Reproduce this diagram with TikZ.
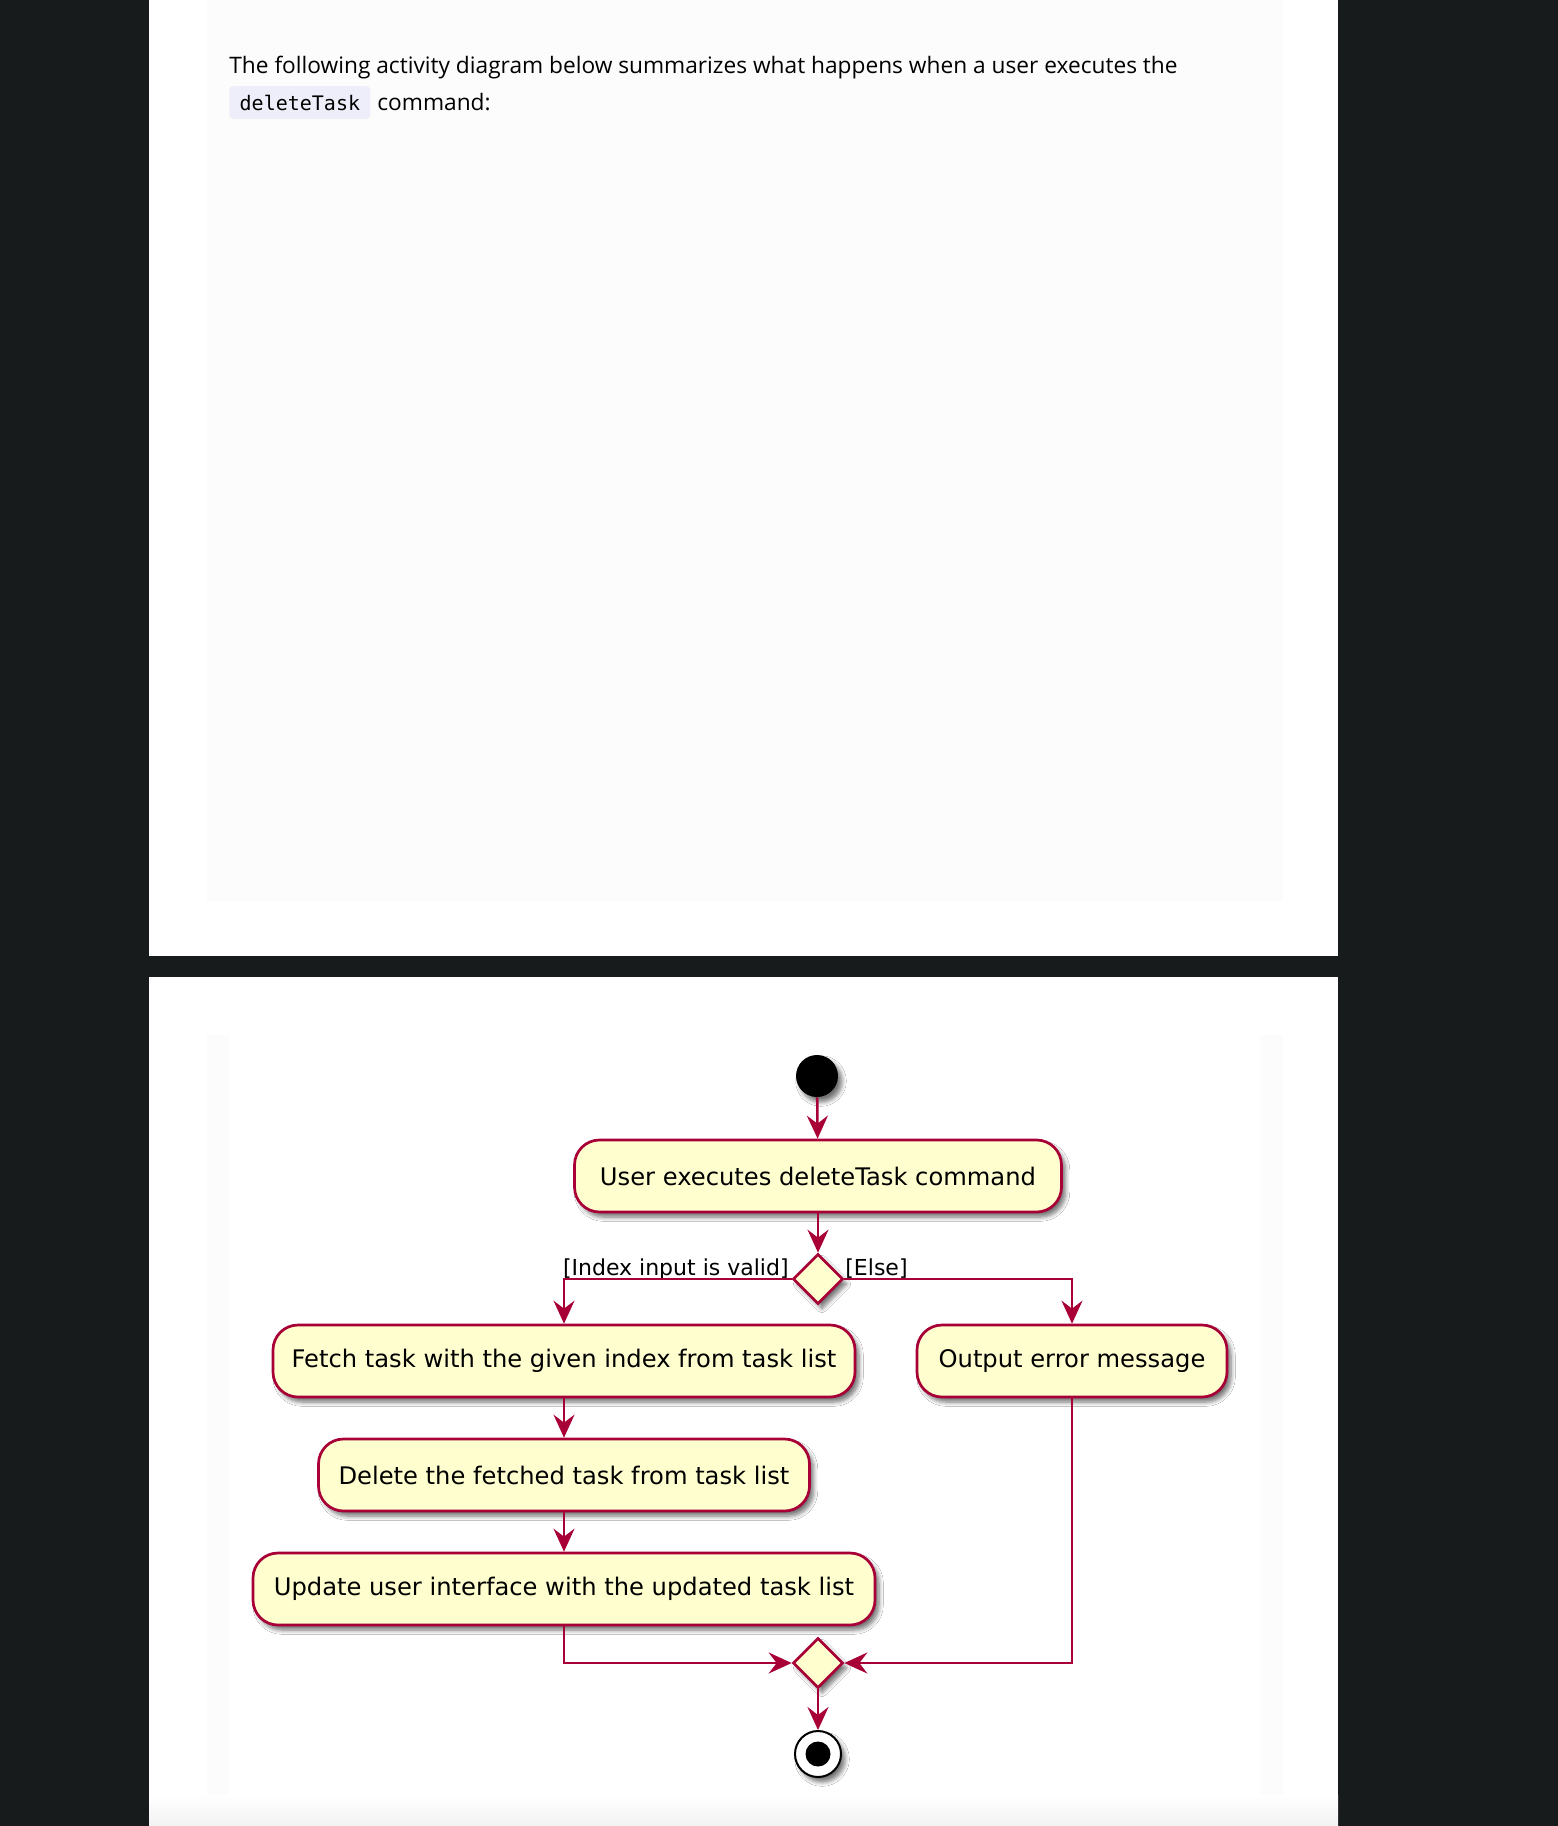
\documentclass[tikz,border=0pt]{standalone}
\usepackage{fontspec}
\setmainfont{Open Sans}
\newfontfamily\diafont{DejaVu Sans}
\newfontfamily\codefont{DejaVu Sans Mono}
\usetikzlibrary{shapes.geometric,arrows.meta,shadows.blur}
\definecolor{pagebg}{HTML}{181B1C}
\definecolor{umlred}{HTML}{A80036}
\definecolor{umlfill}{HTML}{FEFECE}
\definecolor{codebg}{HTML}{EEEEFA}
\definecolor{faint}{HTML}{FCFCFC}
\tikzset{
  act/.style={draw=umlred, fill=umlfill, line width=1.35pt, rounded corners=12.5pt,
    minimum height=36pt, inner sep=0pt, font=\diafont\fontsize{12.1}{14}\selectfont,
    blur shadow={shadow xshift=2pt, shadow yshift=-2.5pt, shadow blur steps=6, shadow opacity=55}},
  decision/.style={diamond, draw=umlred, fill=umlfill, line width=1.35pt,
    minimum width=25pt, minimum height=25pt, inner sep=0pt, aspect=1,
    blur shadow={shadow xshift=2pt, shadow yshift=-2.5pt, shadow blur steps=6, shadow opacity=55}},
  flow/.style={draw=umlred, line width=1.25pt, -{Stealth[length=11.5pt, width=10.5pt, inset=4pt]}},
  guard/.style={font=\diafont\fontsize{11}{13}\selectfont, inner sep=0pt},
}
\begin{document}
\begin{tikzpicture}[x=0.5pt, y=-0.5pt]
\useasboundingbox (0,0) rectangle (1558,1826);
% page background
\fill[pagebg] (0,0) rectangle (1558,1826);
\fill[white] (149,0) rectangle (1338,956);
\fill[white] (149,977) rectangle (1338,1826);
\fill[faint] (207,0) rectangle (1283,901);
\fill[faint] (207,1035) rectangle (1283,1826);
\fill[white] (230,1035) rectangle (1260,1800);
\shade[top color=white, bottom color=black!5] (149,1795) rectangle (1338,1826);
% intro text
\node[anchor=base west, inner sep=0pt, font=\fontsize{11.35}{13}\selectfont] (intro1) at (229,73)
  {The following activity diagram below summarizes what happens when a user executes the};
\node[anchor=west, fill=codebg, rounded corners=2pt, minimum width=70.5pt, minimum height=16.5pt,
  inner sep=0pt, font=\codefont\fontsize{10}{12}\selectfont] (code) at (229,102.5) {deleteTask};
\node[anchor=base west, inner sep=0pt, font=\fontsize{11.35}{13}\selectfont] (intro2) at (377,110) {command:};
% diagram
\node[circle, fill=black, minimum size=21pt, inner sep=0pt,
  blur shadow={shadow xshift=2pt, shadow yshift=-2.5pt, shadow blur steps=6, shadow opacity=55}] (start) at (817,1076) {};
\node[act, minimum width=243.5pt] (a1) at (818,1176) {User executes deleteTask command};
\node[decision] (d1) at (818,1279) {};
\node[act, minimum width=291pt] (a2) at (564,1361) {Fetch task with the given index from task list};
\node[act, minimum width=155pt] (a3) at (1072,1361) {Output error message};
\node[act, minimum width=245.5pt] (a4) at (564,1475) {Delete the fetched task from task list};
\node[act, minimum width=311pt] (a5) at (564,1589) {Update user interface with the updated task list};
\node[decision] (d2) at (818,1663) {};
\node[circle, draw=black, fill=white, line width=1pt, minimum size=23pt, inner sep=0pt,
  blur shadow={shadow xshift=2pt, shadow yshift=-2.5pt, shadow blur steps=6, shadow opacity=55}] (end) at (818,1754) {};
\node[circle, fill=black, minimum size=12.5pt, inner sep=0pt] (endin) at (end.center) {};
% guards
\node[guard, anchor=base east] (g1) at (789,1275) {[Index input is valid]};
\node[guard, anchor=base west] (g2) at (845,1275) {[Else]};
% flows
\draw[flow] (start) -- (a1);
\draw[flow] (a1) -- (d1);
\draw[flow] (d1.west) -| (a2.north);
\draw[flow] (d1.east) -| (a3.north);
\draw[flow] (a2) -- (a4);
\draw[flow] (a4) -- (a5);
\draw[flow] (a5.south) |- (d2.west);
\draw[flow] (a3.south) |- (d2.east);
\draw[flow] (d2) -- (end);
\end{tikzpicture}
\end{document}
